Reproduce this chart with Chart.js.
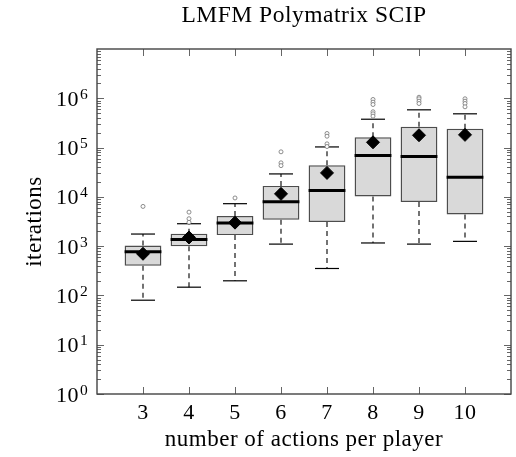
<!DOCTYPE html>
<html><head><meta charset="utf-8">
<script src="https://cdn.jsdelivr.net/npm/chart.js@4/dist/chart.umd.min.js"></script>
<style>html,body{margin:0;padding:0;background:#fff}#wrap{width:516px;height:457px}</style>
</head><body><div id="wrap"><canvas id="c" width="516" height="457"></canvas></div>
<script>
const chartTitle = 'LMFM Polymatrix SCIP';
const xAxisTitle = 'number of actions per player';
const yAxisTitle = 'iterations';
const categories = [3, 4, 5, 6, 7, 8, 9, 10];
const q1 = [400, 990, 1680, 3440, 3090, 10200, 7900, 4400];
const q3 = [1030, 1790, 4090, 16700, 43700, 162000, 264000, 240000];
const medians = [770, 1370, 2950, 8000, 13500, 69000, 66000, 25000];
const means = [700, 1500, 3000, 11500, 30600, 128000, 178000, 181000];
const whiskerLow = [80, 147, 198, 1100, 352, 1160, 1100, 1250];
const whiskerHigh = [1760, 2850, 7270, 29200, 103000, 376000, 583000, 484000];
const outliers = [
  [6400],
  [4900, 3600, 3050],
  [9500],
  [82000, 49000, 43000],
  [193000, 170000, 119000, 105000],
  [946000, 834000, 748000, 532000, 484000, 434000],
  [1050000, 977000, 873000, 784000],
  [977000, 873000, 784000, 671000]
];
const xTickLabels = ['3', '4', '5', '6', '7', '8', '9', '10'];
const yTickValues = [1, 10, 100, 1e3, 1e4, 1e5, 1e6, 1e7];
const yTickBase = '10';
const yTickExponents = ['0', '1', '2', '3', '4', '5', '6', ''];

const FONT = "'Liberation Serif', 'Times New Roman', serif";

const whiskerData = [];
categories.forEach((c, i) => {
  whiskerData.push({x: c, y: q3[i]}, {x: c, y: whiskerHigh[i]}, {x: c, y: null});
  whiskerData.push({x: c, y: q1[i]}, {x: c, y: whiskerLow[i]}, {x: c, y: null});
});
const capData = [];
categories.forEach((c, i) => {
  capData.push({x: c, y: whiskerLow[i]}, {x: c, y: whiskerHigh[i]});
});
const outlierData = outliers.flatMap((arr, i) => arr.map(v => ({x: categories[i], y: v})));

const spacing = (chart) => { try { chart.ctx.letterSpacing = '0.5px'; } catch (e) {} };

const framePlugin = {
  id: 'frame',
  afterInit: spacing,
  beforeUpdate: spacing,
  beforeLayout: spacing,
  beforeDraw: spacing,
  afterDraw(chart) {
    const {ctx, chartArea: {left, right, top, bottom}, scales: {x, y}} = chart;
    ctx.save();
    ctx.strokeStyle = '#666';
    ctx.lineWidth = 1;
    const line = (x1, y1, x2, y2) => { ctx.beginPath(); ctx.moveTo(x1, y1); ctx.lineTo(x2, y2); ctx.stroke(); };
    for (let k = 0; k < yTickValues.length - 1; k++) {
      for (let m = 1; m < 10; m++) {
        const v = m * yTickValues[k];
        const py = Math.round(y.getPixelForValue(v)) + 0.5;
        const len = m === 1 ? 7 : 4;
        line(left, py, left + len, py);
        line(right, py, right - len, py);
      }
    }
    categories.forEach(c => {
      const px = Math.round(x.getPixelForValue(c)) + 0.5;
      line(px, bottom, px, bottom - 7);
      line(px, top, px, top + 7);
    });
    ctx.strokeStyle = '#444';
    ctx.lineWidth = 1.4;
    ctx.strokeRect(left, top, right - left, bottom - top);
    // y tick labels with superscript exponents
    ctx.fillStyle = '#000';
    ctx.textBaseline = 'alphabetic';
    yTickValues.forEach((v, k) => {
      const exp = yTickExponents[k];
      if (!exp) return;
      const py = y.getPixelForValue(v);
      ctx.font = `22px ${FONT}`;
      ctx.textAlign = 'right';
      ctx.fillText(yTickBase, 79, py + 7.5);
      ctx.font = `15.5px ${FONT}`;
      ctx.textAlign = 'left';
      ctx.fillText(exp, 80, py + 0.5);
    });
    ctx.restore();
  }
};

new Chart(document.getElementById('c'), {
  type: 'bar',
  data: {
    datasets: [
      {
        type: 'scatter', order: 0,
        data: categories.map((c, i) => ({x: c, y: means[i]})),
        pointStyle: 'rectRot', pointRadius: 6.5,
        pointBackgroundColor: '#000', pointBorderColor: '#000', pointBorderWidth: 1
      },
      {
        type: 'scatter', order: 1,
        data: outlierData,
        pointStyle: 'circle', pointRadius: 2,
        pointBackgroundColor: '#fff', pointBorderColor: '#808080', pointBorderWidth: 0.9
      },
      {
        type: 'scatter', order: 2,
        data: categories.map((c, i) => ({x: c, y: medians[i]})),
        pointStyle: 'line', pointRadius: 18.4,
        pointBorderColor: '#000', pointBorderWidth: 3
      },
      {
        type: 'scatter', order: 3,
        data: capData,
        pointStyle: 'line', pointRadius: 12,
        pointBorderColor: '#000', pointBorderWidth: 1.2
      },
      {
        type: 'bar', order: 4,
        data: categories.map((c, i) => ({x: c, y: [q1[i], q3[i]]})),
        backgroundColor: '#d9d9d9', borderColor: '#4d4d4d', borderWidth: 1.4,
        borderSkipped: false, barPercentage: 0.8, categoryPercentage: 1
      },
      {
        type: 'line', order: 5,
        data: whiskerData,
        borderColor: '#000', borderWidth: 1.1, borderDash: [5, 4],
        pointRadius: 0, spanGaps: false, fill: false
      }
    ]
  },
  options: {
    responsive: false,
    devicePixelRatio: 1,
    animation: false,
    layout: {autoPadding: false, padding: {left: 0, right: 5, top: 0, bottom: 0}},
    plugins: {
      legend: {display: false},
      tooltip: {enabled: false},
      title: {
        display: true, fullSize: false, text: chartTitle, color: '#000',
        font: {family: FONT, size: 23.5, weight: 'normal'},
        padding: {top: 2, bottom: 18.8}
      }
    },
    scales: {
      x: {
        type: 'linear', min: 2, max: 11, offset: false,
        grid: {display: false, drawTicks: false}, border: {display: false},
        afterBuildTicks: s => { s.ticks = categories.map(v => ({value: v})); },
        afterFit: s => { s.height = 63; s.paddingLeft = 0; s.paddingRight = 0; },
        ticks: {
          color: '#000', font: {family: FONT, size: 22}, padding: 6, autoSkip: false, maxRotation: 0,
          callback: (v) => { const i = categories.indexOf(v); return i >= 0 ? xTickLabels[i] : ''; }
        },
        title: {display: true, text: xAxisTitle, color: '#000', font: {family: FONT, size: 23}, padding: {top: 0, bottom: 3}}
      },
      y: {
        type: 'logarithmic', min: 1, max: 1e7,
        grid: {display: false, drawTicks: false}, border: {display: false},
        afterBuildTicks: s => { s.ticks = yTickValues.map(v => ({value: v})); },
        afterFit: s => { s.width = 97; s.paddingTop = 0; s.paddingBottom = 0; },
        ticks: {display: false},
        title: {display: true, text: yAxisTitle, color: '#000', font: {family: FONT, size: 23}, padding: {top: 21, bottom: 0}}
      }
    }
  },
  plugins: [framePlugin]
});
</script>
</body></html>
